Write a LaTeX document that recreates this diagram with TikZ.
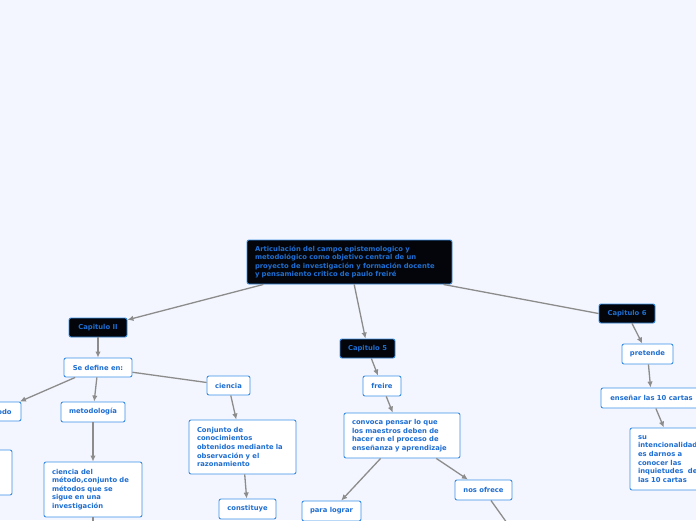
\documentclass[tikz,border=0pt]{standalone}
\usepackage{fontspec}
\setmainfont{DejaVu Sans}
\usepackage{tikz}
\usetikzlibrary{arrows.meta,calc}
\definecolor{mapbg}{RGB}{243,246,254}
\definecolor{mapblue}{RGB}{58,142,230}
\definecolor{maptext}{RGB}{30,110,210}
\definecolor{mapblack}{RGB}{3,5,10}
\definecolor{mapgray}{RGB}{140,140,140}

\begin{document}
\begin{tikzpicture}[x=1pt,y=-1pt,>={Latex[length=6pt,width=5.5pt]},every node/.style={font=\fontsize{6.8}{8.6}\selectfont\bfseries,text=maptext}]
\tikzstyle{topic}=[draw=mapblue,line width=0.9pt,rounded corners=2pt,fill=white,inner sep=0pt]
\tikzstyle{chapter}=[draw=mapblue,line width=0.9pt,rounded corners=2pt,fill=mapblack,inner sep=0pt]
\tikzstyle{link}=[draw=mapgray,line width=1.3pt]
\useasboundingbox (0,0) rectangle (696,520);
\fill[mapbg] (0,0) rectangle (696,520);
\clip (0,0) rectangle (696,520);
% root
\node[chapter,minimum width=205pt,minimum height=44pt,text width=189pt,align=left] (root) at (349.5,262) {Articulación del campo epistemologico y\\metodológico como objetivo central de un\\proyecto de investigación y formación docente\\y pensamiento critico de paulo freiré};
% capitulo II
\node[chapter,minimum width=58pt,minimum height=19pt] (cap2) at (98,327.5) {Capitulo II};
\node[topic,minimum width=68pt,minimum height=19pt] (define) at (98,367.5) {Se define en:};
\node[topic,minimum width=48pt,minimum height=19pt] (metodo) at (-3,411.5) {método};
\node[topic,minimum width=72pt,minimum height=45pt] (hidden) at (-24,472.5) {};
\node[topic,minimum width=64pt,minimum height=20pt] (metodologia) at (93,412) {metodología};
\node[topic,minimum width=98pt,minimum height=55pt,text width=82pt,align=left] (cmetodo) at (93,489.5) {ciencia del\\método,conjunto de\\métodos que se\\sigue en una\\investigación};
\node[topic,minimum width=43pt,minimum height=19pt] (ciencia) at (228.5,385.5) {ciencia};
\node[topic,minimum width=107pt,minimum height=54pt,text width=91pt,align=left] (conjunto) at (242.5,447) {Conjunto de\\conocimientos\\obtenidos mediante la\\observación y el\\razonamiento};
\node[topic,minimum width=57pt,minimum height=20pt] (constituye) at (247.5,509) {constituye};
% capitulo 5
\node[chapter,minimum width=55pt,minimum height=19pt] (cap5) at (367.5,348.5) {Capitulo 5};
\node[topic,minimum width=38pt,minimum height=20pt] (freire) at (382,386) {freire};
\node[topic,minimum width=116pt,minimum height=45pt,text width=100pt,align=left] (convoca) at (402,435.5) {convoca pensar lo que\\los maestros deben de\\hacer en el proceso de\\enseñanza y aprendizaje};
\node[topic,minimum width=57pt,minimum height=20pt] (ofrece) at (483.5,490) {nos ofrece};
\node[topic,minimum width=59pt,minimum height=20pt] (lograr) at (331.5,511) {para lograr};
\coordinate (ofreceend) at (512,530);
\coordinate (cmetodoend) at (93,535);
% capitulo 6
\node[chapter,minimum width=56pt,minimum height=19pt] (cap6) at (627,313.5) {Capitulo 6};
\node[topic,minimum width=51pt,minimum height=20pt] (pretende) at (647.5,354) {pretende};
\node[topic,minimum width=101pt,minimum height=20pt] (ensenar) at (651.5,398) {enseñar las 10 cartas};
\node[topic,minimum width=94pt,minimum height=62pt,text width=78pt,align=left] (intencion) at (677,459) {su\\intencionalidad\\es darnos a\\conocer las\\inquietudes~ de\\las 10 cartas};
\draw[link,->] (root)--(cap2);
\draw[link,->] (root)--(cap5);
\draw[link] ($(root.south east)+(-9,0)$)--(cap6.west);
\draw[link,->] (cap2)--(define);
\draw[link,->] (define)--(metodo);
\draw[link,->] (define)--(metodologia);
\draw[link] (define)--(ciencia);
\draw[link,->] (metodologia)--(cmetodo);
\draw[link] (cmetodo)--(cmetodoend);
\draw[link,->] (ciencia)--(conjunto);
\draw[link,->] (conjunto)--(constituye);
\draw[link,->] (cap5)--(freire);
\draw[link,->] (freire)--(convoca);
\draw[link,->] (convoca)--(lograr);
\draw[link,->] (convoca)--(ofrece);
\draw[link] (ofrece)--(ofreceend);
\draw[link,->] (cap6)--(pretende);
\draw[link,->] (pretende)--(ensenar);
\draw[link,->] (ensenar)--(intencion);
\end{tikzpicture}
\end{document}
